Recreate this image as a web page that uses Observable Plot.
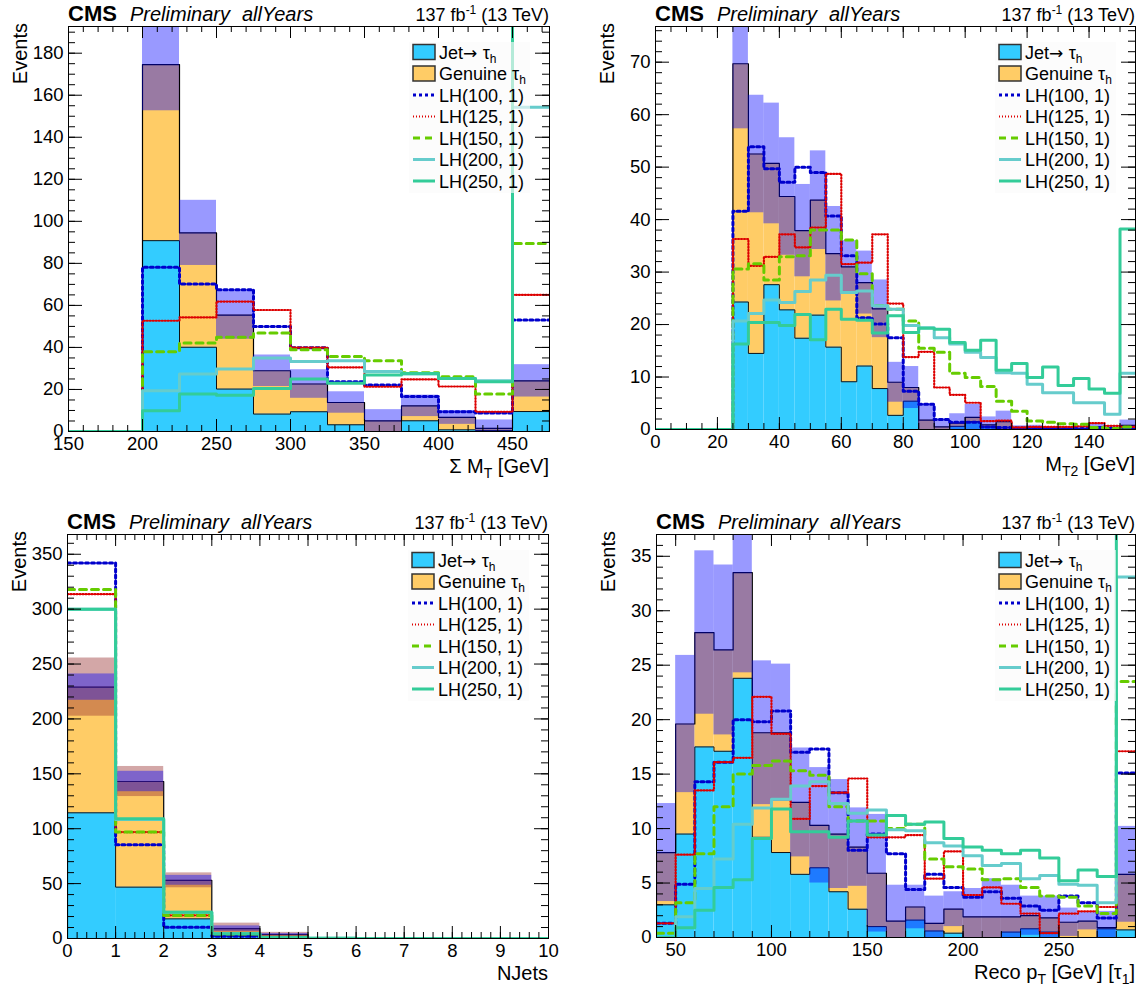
<!DOCTYPE html>
<html>
<head>
<meta charset="utf-8">
<script src="https://cdn.jsdelivr.net/npm/d3@7"></script>
<script src="https://cdn.jsdelivr.net/npm/@observablehq/plot@0.6"></script>
<style>
  html, body { margin: 0; padding: 0; background: #fff; }
  #chart { position: relative; width: 1144px; height: 992px; overflow: hidden;
           font-family: "Liberation Sans", Arial, Helvetica, sans-serif; }
  #chart > svg { position: absolute; }
</style>
</head>
<body>
<div id="chart"></div>
<script>
// ================= DATA =================
const signalNames = ["LH(100, 1)", "LH(125, 1)", "LH(150, 1)", "LH(200, 1)", "LH(250, 1)"];

// ---- Panel 1 : Sum M_T, 25 GeV bins starting at 150 ----
const mtStart = 150, mtBin = 25;
const mtJet   = [0, 0, 90.8, 40.1, 20.2, 8.3, 9.4, 3.2, 0, 5.1, 0.8, 0.5, 9.5];
const mtTotal = [0, 0, 174.6, 94.5, 55.4, 28.9, 22.6, 13.8, 5.1, 12.2, 6.7, 1.5, 24.1];
const mtUnc   = [0, 0, 22, 15.5, 11.5, 7.5, 6.8, 5.1, 5.3, 5.1, 3.3, 4, 7.7];
const mtLH100 = [0, 0, 78.1, 70.2, 67.5, 50, 39.9, 23.7, 22.1, 16.7, 9.4, 8.8, 53];
const mtLH125 = [0, 0, 52.7, 54.3, 61.8, 57.8, 39.9, 30.5, 21.3, 24.8, 21.4, 9.4, 65];
const mtLH150 = [0, 0, 38, 42.1, 44.8, 46.9, 38.9, 35.7, 33.7, 28, 26, 17.8, 89.4];
const mtLH200 = [0, 0, 19.4, 27.3, 29.7, 35, 33.3, 33.7, 28.6, 27.3, 25.2, 24.1, 154.3];
const mtLH250 = [0, 0, 9.9, 17.9, 17.3, 20.5, 25, 22.9, 26.9, 27.6, 25.2, 23.7, 260];
const mtXTicks = [150, 200, 250, 300, 350, 400, 450];
const mtYTicks = [0, 20, 40, 60, 80, 100, 120, 140, 160, 180];

// ---- Panel 2 : M_T2, 5 GeV bins starting at 0 ----
const mt2Start = 0, mt2Bin = 5;
const mt2Jet   = [0,0,0,0,0, 24.3,14.5,27.6,22.8,17.4,21.8,15.7,9.1,12.1,7.8,2.7,5.4,0,0,0.6,1.5,0.5,0,0,0,0,0,0,0,0,0.3];
const mt2Total = [0,0,0,0,0, 69.7,52.5,50.7,44.4,37.9,43.7,33.5,31,28,23,9,8,1.8,0.5,1.2,2.3,0.9,1.5,0.2,0.3,0.2,0.1,0.1,0.5,0.3,0.8];
const mt2Unc   = [0,0,0,0,0, 12.4,11.2,11.5,11.2,8.8,9.4,9,5,6,5.5,3.8,4,3.1,1.5,1.8,2.5,1.5,2,0.5,0.5,0.3,0.2,0.2,0.6,0.4,1];
const mt2LH100 = [0,0,0,0,0, 41.6,53.9,49.7,47.1,50,49,40.7,33.1,21.3,20.1,17.5,7.3,4.8,1.9,1.4,1.4,0.5,0.4,0.3,0.3,0.2,0.2,0.2,0.4,0.2,0.3];
const mt2LH125 = [0,0,0,0,0, 36.3,31.2,32.9,37.2,34.7,38.5,48.7,31.5,31.8,37.2,24,13.8,14.8,8,6.6,5.1,1.6,1.7,0.4,0.5,0.5,0.5,0.6,1.2,0.7,0.5];
const mt2LH150 = [0,0,0,0,0, 30.6,31.6,28.5,32.9,33.1,38,38,36.1,29.7,23.6,22.9,20.7,15.5,14.7,10.7,9.9,8.2,5.4,3.5,1.6,1.4,1.1,1,0.4,0.2,0.5];
const mt2LH200 = [0,0,0,0,0, 20.7,22.1,24.7,24.2,26.3,28.5,29.4,26.1,26.4,23.6,22.9,19.8,19.4,17.5,16.3,14.7,13.7,10.8,10.7,8.6,7,7,5.1,5.1,2.9,10.7];
const mt2LH250 = [0,0,0,0,0, 16.3,20.4,20.4,19.8,21.9,17.1,22.9,21,20.8,18.4,21.7,18.5,19.3,19.1,16.6,15.1,17,11.3,12.6,9.9,11.9,8.4,9.7,7.7,6.9,38.2];
const mt2XTicks = [0, 20, 40, 60, 80, 100, 120, 140];
const mt2YTicks = [0, 10, 20, 30, 40, 50, 60, 70];

// ---- Panel 3 : NJets, unit bins starting at 0 ----
const njStart = 0, njBin = 1;
const njJet   = [114.5, 46.8, 17.9, 2.5, 1, 0, 0, 0, 0, 0];
const njTotal = [229, 143, 53, 9, 3.6, 0, 0, 0, 0, 0];
const njUnc   = [12, 9.3, 4.5, 2.5, 1, 0, 0, 0, 0, 0];
const njUnc2  = [26.5, 13.7, 6.8, 5, 2, 0, 0, 0, 0, 0];
const njLH100 = [342, 85.4, 10.3, 2, 0.5, 0, 0, 0, 0, 0];
const njLH125 = [313.6, 96.9, 21, 5, 1, 0, 0, 0, 0, 0];
const njLH150 = [317.9, 96.9, 21, 4, 1, 0, 0, 0, 0, 0];
const njLH200 = [300, 108.5, 24, 4.5, 1, 0.3, 0, 0, 0, 0];
const njLH250 = [300, 109, 24, 4.3, 1, 0.3, 0, 0, 0, 0];
const njXTicks = [0, 1, 2, 3, 4, 5, 6, 7, 8, 9, 10];
const njYTicks = [0, 50, 100, 150, 200, 250, 300, 350];

// ---- Panel 4 : Reco pT(tau1), 10 GeV bins starting at 40 ----
const rpStart = 40, rpBin = 10;
const rpJet   = [3.0,9.5,17.5,17.1,23.8,9.2,7.8,5.8,6.4,4.2,2.6,1.0,0,1.6,0.6,0.4,0,0,0.5,0.8,0.5,0,0,0.8,0.7];
const rpTotal = [7.8,19.6,28.0,26.4,33.5,18.8,18.8,12.4,10.3,9.5,8.3,5.9,1.5,2.8,1.3,2.6,1.9,1.9,1.9,2.0,1.8,1.4,1.5,0.9,5.8];
const rpUnc   = [4.5,6.3,7.5,7.8,9.2,6.6,6.3,5,5.3,5,3.6,5.4,3.3,2,2.5,1.6,2.6,3.5,2.9,1.8,2,1.3,0.8,1.5,4.4];
const rpLH100 = [1.3,4.9,14.3,16.1,20,19.8,20.8,17,17.3,13.3,8,9.5,7.7,4.4,5.8,4.6,3.7,4.2,3.6,2.9,2.5,3.8,3.2,1.8,15.1];
const rpLH125 = [1.3,7.6,13.5,16.1,16.5,22.1,18.7,10.9,13.9,13.3,14.6,9.2,9.2,9.4,5.4,7.9,3.9,4.6,3.1,2.2,0.4,2.2,2.4,2.8,17.1];
const rpLH150 = [0.4,3.2,7.7,12,15,15.8,16.2,15.3,14.9,12,10.7,10.7,10,10.4,7.2,6.5,6.3,5.3,5.4,4.6,3.8,3.7,2.9,2.2,23.5];
const rpLH200 = [0,1.9,4.5,7.2,10.4,11.9,12.7,13.9,14.3,12.3,11.4,11.7,9.9,9.8,8.7,8.4,7.5,6.6,6.8,5.4,5.7,4.9,4.8,3.2,33.1];
const rpLH250 = [0,0.9,2.5,4.6,5.3,9.1,11.8,9.7,9.7,9.2,10.7,9.4,11.2,10.4,10.6,9.1,8.3,8,7.7,8,7.3,5.2,6.2,5.6,50];
const rpXTicks = [50, 100, 150, 200, 250];
const rpYTicks = [0, 5, 10, 15, 20, 25, 30, 35];

// ================= STYLES =================
const jetColor = "#33ccff", genColor = "#ffcc66";
const sigStyle = [
  {stroke: "#0000cc", width: 3,   dash: "3,3"},
  {stroke: "#dd0000", width: 2.2, dash: "1,2"},
  {stroke: "#66cc00", width: 3,   dash: "7,5"},
  {stroke: "#66cccc", width: 3,   dash: null},
  {stroke: "#33cc99", width: 3,   dash: null}
];

const panels = [
  {left: 0, top: 0, w: 572, h: 496, margin: {top: 26, right: 23, bottom: 65, left: 68},
   xDomain: [150, 475], yDomain: [0, 192.7], start: mtStart, bw: mtBin,
   jet: mtJet, total: mtTotal, unc: mtUnc, unc2: null,
   sig: [mtLH100, mtLH125, mtLH150, mtLH200, mtLH250],
   xTicks: mtXTicks, yTicks: mtYTicks, xMinor: 10, yMinor: 5,
   xTitle: [["Σ M"], ["T", "sub"], [" [GeV]"]]},
  {left: 572, top: 0, w: 572, h: 496, margin: {top: 26, right: 9, bottom: 67, left: 83},
   xDomain: [0, 155], yDomain: [0, 76.8], start: mt2Start, bw: mt2Bin,
   jet: mt2Jet, total: mt2Total, unc: mt2Unc, unc2: null,
   sig: [mt2LH100, mt2LH125, mt2LH150, mt2LH200, mt2LH250],
   xTicks: mt2XTicks, yTicks: mt2YTicks, xMinor: 5, yMinor: 2,
   xTitle: [["M"], ["T2", "sub"], [" [GeV]"]]},
  {left: 0, top: 496, w: 572, h: 496, margin: {top: 38, right: 24, bottom: 54, left: 67},
   xDomain: [0, 10], yDomain: [0, 368], start: njStart, bw: njBin,
   jet: njJet, total: njTotal, unc: njUnc, unc2: njUnc2,
   sig: [njLH100, njLH125, njLH150, njLH200, njLH250],
   xTicks: njXTicks, yTicks: njYTicks, xMinor: 0.2, yMinor: 10,
   xTitle: [["NJets"]]},
  {left: 572, top: 496, w: 572, h: 496, margin: {top: 38, right: 9, bottom: 55, left: 84},
   xDomain: [40, 290], yDomain: [0, 37], start: rpStart, bw: rpBin,
   jet: rpJet, total: rpTotal, unc: rpUnc, unc2: null,
   sig: [rpLH100, rpLH125, rpLH150, rpLH200, rpLH250],
   xTicks: rpXTicks, yTicks: rpYTicks, xMinor: 10, yMinor: 1,
   xTitle: [["Reco p"], ["T", "sub"], [" [GeV] [τ"], ["1", "sub"], ["]"]]}
];

// step outline points (histogram style)
function steps(start, bw, vals, close) {
  const pts = vals.map((v, i) => ({x: start + i * bw, y: v}));
  const end = start + vals.length * bw;
  pts.push({x: end, y: vals[vals.length - 1]});
  if (close) { pts.unshift({x: start, y: 0}); pts.push({x: end, y: 0}); }
  return pts;
}

const chart = document.getElementById("chart");

panels.forEach(p => {
  const iw = p.w - p.margin.left - p.margin.right;
  const ih = p.h - p.margin.top - p.margin.bottom;
  const rows = p.jet.map((j, i) => ({
    x1: p.start + i * p.bw, x2: p.start + (i + 1) * p.bw,
    jet: j, total: p.total[i], unc: p.unc[i], unc2: p.unc2 ? p.unc2[i] : 0
  }));
  const within = (v, d) => v >= d[0] - 1e-9 && v <= d[1] + 1e-9;
  const xMin = d3.range(p.xDomain[0], p.xDomain[1] + 1e-9, p.xMinor).filter(v => within(v, p.xDomain));
  const yMin = d3.range(p.yDomain[0], p.yDomain[1] + 1e-9, p.yMinor);
  const xMaj = p.xTicks.filter(v => within(v, p.xDomain));
  const yMaj = p.yTicks.filter(v => within(v, p.yDomain));

  const marks = [
    Plot.rect(rows, {x1: "x1", x2: "x2", y1: 0, y2: "jet", fill: jetColor, clip: true}),
    Plot.rect(rows, {x1: "x1", x2: "x2", y1: "jet", y2: "total", fill: genColor, clip: true}),
    Plot.line(steps(p.start, p.bw, p.jet, true), {x: "x", y: "y", curve: "step-after", stroke: "#111", strokeWidth: 1, clip: true}),
    Plot.line(steps(p.start, p.bw, p.total, true), {x: "x", y: "y", curve: "step-after", stroke: "#000", strokeWidth: 1.2, clip: true})
  ];
  if (p.unc2) {
    marks.push(Plot.rect(rows, {x1: "x1", x2: "x2", y1: d => Math.max(0, d.total - d.unc2), y2: d => d.total + d.unc2,
      fill: "#993333", fillOpacity: 0.43, clip: true}));
  }
  marks.push(Plot.rect(rows, {x1: "x1", x2: "x2", y1: d => Math.max(0, d.total - d.unc), y2: d => d.total + d.unc,
    fill: "#0000ff", fillOpacity: 0.4, clip: true}));
  p.sig.forEach((vals, k) => {
    const s = sigStyle[k];
    marks.push(Plot.line(steps(p.start, p.bw, vals, false), {x: "x", y: "y", curve: "step-after",
      stroke: s.stroke, strokeWidth: s.width, strokeDasharray: s.dash || undefined, clip: true}));
  });
  // ticks inside the frame on all four sides
  const tk = {stroke: "#000", strokeWidth: 1};
  marks.push(
    Plot.tickX(xMin, {x: d => d, insetTop: ih - 6, ...tk}),
    Plot.tickX(xMaj, {x: d => d, insetTop: ih - 12, ...tk}),
    Plot.tickX(xMin, {x: d => d, insetBottom: ih - 6, ...tk}),
    Plot.tickX(xMaj, {x: d => d, insetBottom: ih - 12, ...tk}),
    Plot.tickY(yMin, {y: d => d, insetRight: iw - 7, ...tk}),
    Plot.tickY(yMaj, {y: d => d, insetRight: iw - 14, ...tk}),
    Plot.tickY(yMin, {y: d => d, insetLeft: iw - 7, ...tk}),
    Plot.tickY(yMaj, {y: d => d, insetLeft: iw - 14, ...tk}),
    Plot.axisX({ticks: xMaj, tickSize: 0, tickPadding: 5, label: null, tickFormat: d => String(d)}),
    Plot.axisY({ticks: yMaj, tickSize: 0, tickPadding: 5, label: null, tickFormat: d => String(d)}),
    Plot.frame({stroke: "#000", strokeWidth: 1})
  );

  const svg = Plot.plot({
    width: p.w, height: p.h,
    marginTop: p.margin.top, marginRight: p.margin.right, marginBottom: p.margin.bottom, marginLeft: p.margin.left,
    x: {domain: p.xDomain, axis: null},
    y: {domain: p.yDomain, axis: null},
    style: {fontFamily: '"Liberation Sans", Arial, sans-serif', fontSize: "18.5px", color: "#000", background: "transparent"},
    marks
  });
  svg.style.left = p.left + "px";
  svg.style.top = p.top + "px";
  chart.appendChild(svg);
});

// ================= TEXT OVERLAY (titles, axis titles, legends) =================
const over = d3.create("svg").attr("width", 1144).attr("height", 992)
  .style("left", "0px").style("top", "0px")
  .attr("font-family", '"Liberation Sans", Arial, sans-serif');

panels.forEach(p => {
  const fx1 = p.left + p.margin.left, fx2 = p.left + p.w - p.margin.right;
  const fy1 = p.top + p.margin.top, fy2 = p.top + p.h - p.margin.bottom;
  const g = over.append("g");
  g.append("text").attr("x", fx1).attr("y", fy1 - 5).attr("font-weight", "bold").attr("font-size", 22).text("CMS");
  g.append("text").attr("x", fx1 + 62).attr("y", fy1 - 5).attr("font-style", "italic").attr("font-size", 20).text("Preliminary");
  g.append("text").attr("x", fx1 + 174).attr("y", fy1 - 5).attr("font-style", "italic").attr("font-size", 20).text("allYears");
  const lumi = g.append("text").attr("x", fx2).attr("y", fy1 - 5).attr("text-anchor", "end").attr("font-size", 18);
  lumi.append("tspan").text("137 fb");
  lumi.append("tspan").attr("font-size", 12).attr("dy", -7).text("-1");
  lumi.append("tspan").attr("dy", 7).text(" (13 TeV)");

  g.append("text").attr("transform", `translate(${fx1 - 41},${fy1 - 3}) rotate(-90)`)
    .attr("text-anchor", "end").attr("font-size", 20).text("Events");

  const xt = g.append("text").attr("x", fx2).attr("y", fy2 + 42).attr("text-anchor", "end").attr("font-size", 20);
  let shifted = 0;
  p.xTitle.forEach(([t, kind]) => {
    const ts = xt.append("tspan").text(t);
    if (kind === "sub") { ts.attr("font-size", 14).attr("dy", 5 - shifted); shifted = 5; }
    else if (shifted) { ts.attr("dy", -shifted); shifted = 0; }
  });

  // legend
  const lg = g.append("g");
  lg.append("rect").attr("x", fx2 - 140).attr("y", fy1 + 16).attr("width", 121).attr("height", 151)
    .attr("fill", "#fafafa").attr("fill-opacity", 0.65);
  const rowY = k => fy1 + 26 + k * 21.5;
  const sx = fx2 - 136, tx = fx2 - 110;
  [[jetColor, "Jet", true], [genColor, "Genuine ", false]].forEach(([c, label, arrow], k) => {
    lg.append("rect").attr("x", sx).attr("y", rowY(k) - 7.5).attr("width", 22).attr("height", 15)
      .attr("fill", c).attr("stroke", "#333").attr("stroke-width", 1.5);
    const t = lg.append("text").attr("x", tx).attr("y", rowY(k) + 6.5).attr("font-size", 18);
    t.append("tspan").text(label);
    if (arrow) t.append("tspan").attr("font-family", '"DejaVu Sans", sans-serif').attr("font-size", 17).text("→ ");
    t.append("tspan").text("τ");
    t.append("tspan").attr("font-size", 12).attr("dy", 4).text("h");
  });
  signalNames.forEach((name, i) => {
    const k = i + 2, s = sigStyle[i];
    lg.append("line").attr("x1", sx).attr("x2", sx + 22).attr("y1", rowY(k)).attr("y2", rowY(k))
      .attr("stroke", s.stroke).attr("stroke-width", s.width).attr("stroke-dasharray", s.dash);
    lg.append("text").attr("x", tx).attr("y", rowY(k) + 6.5).attr("font-size", 18).text(name);
  });
});
chart.appendChild(over.node());
</script>
</body>
</html>
